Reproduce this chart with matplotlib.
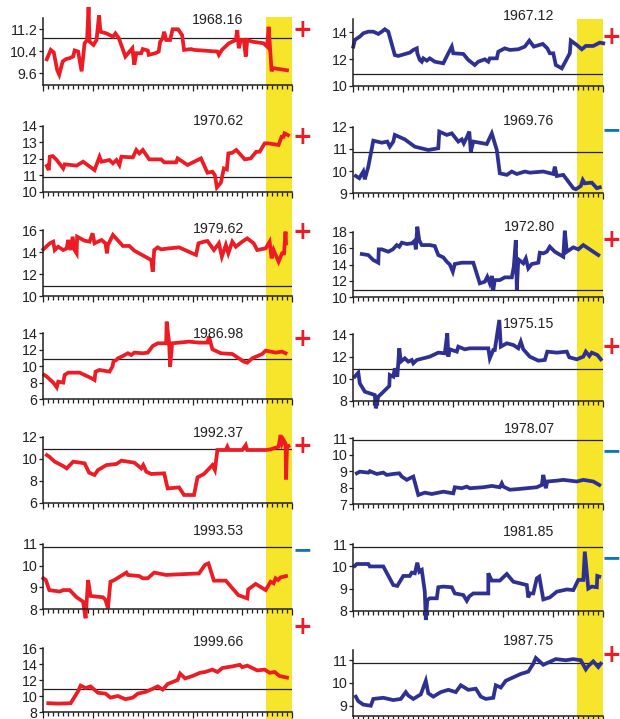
import matplotlib.pyplot as plt
import matplotlib.transforms as mtransforms
from matplotlib.patches import Rectangle
from matplotlib.ticker import MultipleLocator, FormatStrFormatter

plt.rcParams['font.family'] = ['Liberation Sans Narrow', 'Liberation Sans', 'DejaVu Sans']

# ---- data: (time, value) pairs, left column (red) ----
s_1968_16 = [(0.7, 10.10), (1.5, 10.44), (2.1, 10.35), (2.8, 9.70), (3.2, 9.54), (3.9, 10.02), (4.5, 10.10),
             (5.3, 10.14), (6.0, 10.20), (6.3, 10.42), (7.0, 10.38), (7.7, 9.66), (8.3, 10.68), (8.8, 10.80),
             (9.1, 12.0), (9.3, 10.74), (10.1, 10.62), (10.7, 10.80), (11.2, 11.70), (11.5, 11.10), (12.7, 11.04),
             (14.0, 10.92), (14.5, 11.04), (15.2, 10.86), (16.5, 10.20), (17.9, 10.50), (18.3, 9.90), (18.7, 10.32),
             (19.7, 10.32), (20.0, 10.47), (21.0, 10.42), (21.2, 10.26), (22.5, 10.32), (23.2, 10.38), (23.5, 10.74),
             (24.0, 10.86), (24.3, 11.10), (24.7, 10.80), (25.5, 10.80), (26.0, 11.19), (27.1, 11.19), (27.9, 10.98),
             (28.3, 10.44), (29.7, 10.47), (30.3, 10.44), (35.0, 10.38), (35.3, 10.26), (35.9, 10.44), (37.3, 10.68),
             (38.7, 10.80), (39.0, 11.16), (39.3, 10.50), (39.7, 10.80), (40.3, 10.80), (40.7, 10.20), (41.0, 10.80),
             (42.0, 10.74), (44.3, 10.68), (45.0, 10.56), (45.3, 11.28), (45.9, 9.66), (46.1, 9.78), (49.0, 9.70)]
s_1970_62 = [(0.7, 11.56), (1.1, 11.31), (1.3, 12.12), (1.9, 12.16), (2.7, 11.92), (4.0, 11.41), (4.3, 11.66),
             (6.7, 11.58), (8.0, 11.82), (10.3, 11.31), (11.3, 12.12), (11.7, 11.82), (13.3, 11.92), (14.0, 11.72),
             (14.7, 11.92), (15.3, 11.62), (15.7, 12.12), (18.0, 12.08), (18.7, 12.53), (19.3, 12.32), (20.0, 12.53),
             (21.3, 11.96), (23.7, 11.96), (24.3, 11.78), (26.7, 11.78), (27.0, 12.02), (29.0, 11.62), (31.7, 12.02),
             (33.0, 11.15), (34.0, 11.21), (34.5, 11.0), (34.9, 10.26), (35.7, 10.55), (36.3, 11.41), (36.9, 11.35),
             (37.2, 12.32), (38.0, 12.36), (38.8, 12.53), (40.5, 11.96), (41.7, 12.02), (42.8, 12.42), (43.5, 12.42),
             (44.5, 12.93), (45.3, 12.93), (47.3, 12.83), (47.9, 13.33), (48.3, 13.33), (48.5, 13.54), (49.2, 13.43)]
s_1979_62 = [(0.0, 14.24), (1.3, 14.79), (2.0, 14.94), (2.3, 14.18), (3.0, 14.48), (4.0, 14.18), (4.7, 14.33),
             (5.0, 15.09), (5.5, 14.18), (5.9, 15.39), (6.3, 14.18), (6.7, 13.88), (6.8, 15.39), (8.3, 15.03),
             (9.3, 14.94), (9.9, 15.70), (10.3, 14.79), (11.7, 15.09), (12.5, 14.79), (12.8, 13.88), (13.0, 14.64),
             (14.0, 15.55), (16.0, 14.55), (17.3, 14.55), (18.3, 14.12), (21.7, 13.27), (22.0, 12.21), (22.3, 14.18),
             (23.0, 14.42), (23.7, 14.24), (25.3, 14.33), (27.3, 14.42), (30.7, 13.73), (31.2, 14.79), (32.3, 14.94),
             (33.0, 15.0), (34.3, 14.18), (35.3, 14.79), (35.9, 13.58), (36.7, 14.64), (37.2, 13.88), (38.0, 14.94),
             (38.7, 14.48), (40.0, 14.94), (41.0, 15.24), (42.3, 14.79), (43.0, 14.18), (44.7, 14.33), (45.5, 14.94),
             (45.9, 13.42), (46.3, 14.18), (47.3, 13.12), (48.0, 13.88), (48.4, 13.88), (48.7, 15.85), (48.8, 14.79)]
s_1986_98 = [(0.2, 8.95), (0.7, 8.75), (2.0, 8.02), (2.7, 7.45), (3.0, 8.14), (4.0, 8.02), (4.3, 8.95), (5.0, 9.23),
             (7.3, 9.23), (9.7, 8.55), (10.3, 8.34), (10.5, 9.35), (11.3, 9.56), (13.3, 9.35), (13.9, 9.96),
             (14.1, 10.57), (14.7, 10.77), (15.0, 10.97), (16.0, 11.25), (17.0, 11.58), (17.7, 11.37), (18.3, 11.66),
             (20.0, 11.58), (21.0, 11.66), (22.0, 12.46), (23.0, 12.79), (24.7, 12.79), (24.8, 15.41), (25.3, 12.79),
             (25.5, 9.96), (25.9, 12.79), (27.3, 12.87), (29.3, 12.99), (31.3, 12.87), (33.0, 12.87), (33.3, 13.6),
             (34.0, 12.06), (35.7, 11.58), (38.0, 11.49), (40.3, 10.57), (41.0, 10.44), (42.0, 10.97), (44.0, 11.49),
             (44.7, 11.90), (46.7, 11.66), (48.0, 11.78), (48.7, 11.58)]
s_1992_37 = [(0.7, 10.33), (1.2, 10.18), (2.3, 9.73), (4.0, 9.33), (4.7, 9.12), (6.0, 9.73), (8.3, 9.58), (9.2, 8.73),
             (10.3, 8.52), (11.0, 8.97), (12.7, 9.42), (14.7, 9.52), (15.7, 9.82), (18.3, 9.64), (19.7, 9.12),
             (20.1, 9.42), (20.7, 8.82), (21.7, 8.61), (24.3, 8.67), (25.0, 7.30), (27.3, 7.39), (28.3, 6.70),
             (30.3, 6.70), (31.0, 8.30), (32.3, 8.61), (34.0, 9.42), (34.5, 8.97), (35.0, 10.79), (36.7, 10.79),
             (37.0, 11.09), (37.3, 10.79), (40.0, 10.79), (40.7, 11.24), (41.0, 10.79), (44.7, 10.79), (45.7, 10.85),
             (47.3, 11.09), (47.7, 12.15), (48.0, 11.39), (48.3, 11.70), (48.7, 11.39), (48.8, 8.12), (49.0, 11.09),
             (49.3, 11.15)]
s_1993_53 = [(0.0, 9.42), (0.5, 9.34), (1.2, 8.88), (3.3, 8.81), (4.0, 8.88), (5.3, 8.88), (6.7, 8.55), (8.0, 8.35),
             (8.5, 7.59), (9.0, 9.34), (9.5, 8.61), (12.0, 8.55), (12.5, 8.43), (13.0, 8.05), (13.5, 9.26),
             (14.3, 9.34), (16.7, 9.68), (17.0, 9.57), (19.3, 9.52), (20.0, 9.42), (21.0, 9.42), (22.3, 9.68),
             (24.7, 9.57), (27.3, 9.60), (31.3, 9.64), (32.5, 10.03), (33.2, 10.10), (34.3, 9.31), (36.7, 9.31),
             (39.2, 8.65), (41.0, 8.50), (41.2, 8.91), (42.7, 9.16), (44.7, 8.88), (45.7, 9.26), (46.3, 9.19),
             (46.7, 9.42), (47.2, 9.34), (47.7, 9.46), (48.8, 9.52)]
s_1999_66 = [(1.0, 9.1), (3.0, 9.05), (5.5, 9.1), (6.0, 9.6), (7.0, 10.6), (7.5, 11.3), (8.5, 11.0), (9.5, 11.2),
             (11.0, 10.4), (12.5, 10.3), (13.5, 9.8), (15.0, 10.0), (16.5, 9.6), (18.0, 9.8), (19.0, 10.3),
             (20.5, 10.5), (22.0, 10.9), (23.0, 11.2), (24.0, 10.8), (25.0, 11.5), (27.0, 12.0), (27.5, 12.8),
             (28.5, 12.2), (30.0, 12.5), (31.5, 12.9), (32.5, 13.0), (34.0, 13.3), (35.0, 13.0), (36.0, 13.5),
             (38.0, 13.7), (39.5, 13.9), (40.0, 13.6), (41.0, 13.8), (43.0, 13.2), (44.5, 13.3), (45.5, 12.9),
             (46.5, 13.0), (47.5, 12.5), (49.0, 12.3)]

# ---- right column (blue) ----
s_1967_12 = [(0.0, 12.93), (0.3, 13.43), (1.3, 13.68), (2.0, 13.93), (3.0, 14.05), (4.0, 14.05), (5.0, 13.88),
             (5.7, 14.05), (6.3, 14.23), (7.0, 14.05), (8.3, 12.30), (9.0, 12.23), (11.3, 12.48), (12.0, 12.68),
             (12.7, 12.80), (12.8, 12.43), (13.3, 11.93), (13.7, 11.80), (14.0, 12.05), (14.7, 11.88), (15.3, 12.05),
             (16.3, 11.80), (18.0, 11.68), (19.0, 12.43), (19.7, 12.93), (20.0, 12.43), (22.0, 12.38), (23.0, 11.93),
             (24.3, 11.55), (25.0, 11.80), (26.3, 11.98), (27.0, 11.80), (27.3, 12.05), (28.7, 12.05), (29.0, 12.55),
             (30.3, 12.80), (31.3, 12.68), (33.0, 12.73), (34.3, 12.93), (35.2, 13.38), (36.1, 12.93), (37.9, 13.13),
             (38.8, 12.80), (39.3, 12.43), (40.0, 12.43), (40.5, 11.55), (41.7, 11.30), (43.3, 12.43), (43.5, 13.38),
             (44.7, 13.05), (45.7, 12.73), (46.5, 12.98), (48.0, 12.98), (49.3, 13.23), (50.0, 13.18)]
s_1969_76 = [(0.5, 9.78), (1.2, 9.68), (2.0, 9.98), (2.3, 9.63), (3.0, 10.20), (4.0, 11.37), (5.7, 11.28),
             (6.8, 11.33), (7.3, 11.10), (8.0, 11.33), (8.3, 11.63), (10.3, 11.43), (12.3, 11.10), (15.0, 10.95),
             (17.0, 11.03), (17.2, 11.78), (18.7, 11.63), (19.7, 11.70), (21.0, 11.33), (21.7, 11.43), (22.1, 11.25),
             (22.7, 11.52), (23.2, 11.78), (23.5, 10.88), (24.0, 11.33), (26.7, 11.22), (27.7, 11.70), (28.7, 10.95),
             (29.3, 9.90), (30.7, 9.83), (31.7, 9.98), (32.7, 9.87), (34.3, 9.98), (35.3, 9.93), (38.0, 9.98),
             (40.0, 9.87), (40.3, 10.20), (40.7, 9.78), (42.0, 9.83), (44.0, 9.23), (44.5, 9.18), (45.5, 9.33),
             (45.9, 9.60), (46.3, 9.45), (47.7, 9.48), (48.7, 9.23), (49.3, 9.27)]
s_1972_80 = [(1.7, 15.28), (3.0, 15.15), (4.0, 14.54), (5.0, 14.22), (5.1, 15.85), (5.7, 15.85), (7.0, 15.56),
             (7.9, 15.85), (8.7, 16.37), (9.2, 16.17), (9.7, 16.66), (10.7, 16.50), (11.7, 16.58), (12.3, 16.90),
             (12.5, 15.85), (12.8, 18.61), (13.2, 16.9), (13.7, 16.37), (15.3, 16.37), (16.3, 16.25), (17.0, 15.15),
             (18.0, 14.87), (18.7, 14.34), (19.3, 14.0), (19.9, 13.12), (20.3, 14.06), (21.7, 14.22), (24.0, 14.22),
             (25.3, 11.70), (26.3, 11.90), (26.8, 12.50), (27.3, 11.70), (27.7, 12.60), (28.0, 10.89), (28.3, 12.10),
             (29.3, 12.10), (30.3, 12.43), (31.7, 12.43), (32.1, 13.73), (32.5, 16.98), (32.7, 10.89), (33.0, 14.63),
             (34.0, 14.14), (34.5, 14.75), (35.0, 13.53), (35.7, 14.06), (37.0, 14.22), (37.3, 15.44), (38.0, 15.36),
             (38.7, 15.56), (39.3, 16.17), (40.3, 15.56), (42.0, 14.95), (42.3, 18.12), (42.7, 15.56), (44.0, 16.09),
             (45.0, 15.85), (46.0, 16.37), (47.7, 15.68), (49.0, 15.15)]
s_1975_15 = [(0.3, 10.19), (1.0, 10.55), (1.3, 9.59), (2.3, 8.84), (4.3, 8.54), (4.5, 7.34), (5.0, 8.39), (5.7, 8.69),
             (7.2, 9.35), (7.3, 10.34), (8.0, 10.19), (8.3, 10.94), (8.8, 10.19), (9.2, 12.74), (9.5, 11.54),
             (10.3, 11.84), (11.0, 11.54), (11.7, 11.69), (12.0, 11.39), (12.7, 11.69), (14.0, 11.84), (15.3, 11.99),
             (17.0, 12.35), (18.3, 12.29), (18.8, 14.09), (19.0, 11.99), (19.3, 12.65), (20.7, 12.44), (21.0, 12.89),
             (22.3, 12.65), (23.3, 12.74), (27.0, 12.74), (27.3, 11.84), (28.0, 12.59), (28.3, 12.59), (29.2, 15.29),
             (29.5, 12.89), (30.7, 13.19), (32.0, 13.04), (33.0, 12.74), (33.5, 13.34), (34.0, 12.65), (35.3, 11.99),
             (37.0, 11.63), (38.3, 11.69), (38.8, 12.44), (40.7, 12.35), (42.7, 12.44), (43.2, 11.93), (44.7, 11.75),
             (46.0, 11.99), (46.5, 12.44), (47.2, 12.05), (47.7, 12.35), (48.8, 12.14), (49.5, 11.75)]
s_1978_07 = [(0.7, 8.87), (1.3, 8.97), (3.0, 8.91), (3.3, 9.0), (4.7, 8.83), (6.0, 8.91), (6.7, 8.77), (8.0, 8.83),
             (9.2, 8.87), (9.7, 8.67), (10.7, 8.47), (11.3, 8.57), (12.0, 8.67), (13.0, 7.55), (14.3, 7.69),
             (15.7, 7.61), (18.0, 7.75), (20.0, 7.65), (20.3, 8.02), (21.7, 7.96), (22.7, 8.06), (23.3, 7.96),
             (26.0, 8.02), (27.7, 8.10), (29.3, 8.02), (29.7, 8.26), (30.0, 8.06), (31.3, 7.87), (33.0, 7.91),
             (36.7, 8.02), (37.7, 8.16), (38.0, 8.77), (38.5, 7.96), (38.8, 8.37), (40.7, 8.42), (42.0, 8.47),
             (44.7, 8.37), (46.0, 8.47), (48.0, 8.37), (49.2, 8.16)]
s_1981_85 = [(0.3, 10.02), (0.7, 10.11), (3.0, 10.11), (3.3, 10.0), (6.0, 10.0), (8.0, 9.16), (8.8, 9.12),
             (10.0, 9.57), (11.3, 9.57), (11.7, 9.72), (12.3, 9.69), (12.8, 10.17), (13.2, 9.76), (13.7, 9.84),
             (14.3, 8.86), (14.5, 7.58), (14.8, 8.48), (15.3, 8.56), (16.7, 8.56), (17.0, 9.06), (18.0, 9.09),
             (19.7, 9.06), (20.3, 8.78), (22.0, 8.71), (22.7, 8.45), (23.2, 8.65), (24.0, 8.78), (27.0, 8.78),
             (27.0, 9.69), (27.7, 9.36), (29.3, 9.36), (30.7, 9.66), (32.0, 9.31), (34.7, 9.16), (35.0, 8.60),
             (35.3, 8.78), (36.0, 8.78), (36.7, 9.46), (37.2, 9.54), (38.0, 8.51), (39.3, 8.60), (40.7, 8.86),
             (42.7, 8.96), (44.0, 8.93), (45.0, 9.39), (46.0, 9.39), (46.3, 10.67), (47.0, 9.0), (47.7, 9.09),
             (48.7, 9.06), (48.8, 9.57), (49.2, 9.54)]
s_1987_75 = [(0.5, 9.4), (1.0, 9.2), (2.0, 9.05), (3.5, 9.0), (4.0, 9.3), (6.0, 9.35), (8.0, 9.25), (9.5, 9.3),
             (10.5, 9.6), (11.0, 9.45), (12.0, 9.3), (13.5, 9.5), (14.5, 10.1), (15.0, 9.55), (16.0, 9.4), (17.5, 9.6),
             (19.0, 9.7), (20.5, 9.6), (21.5, 9.9), (23.0, 9.7), (24.5, 9.75), (25.5, 9.4), (26.5, 9.3), (28.0, 9.35),
             (28.5, 9.9), (29.5, 9.8), (30.5, 10.1), (32.0, 10.25), (33.5, 10.4), (35.0, 10.5), (36.0, 10.85),
             (36.5, 11.1), (38.0, 10.8), (39.5, 10.95), (40.5, 11.05), (42.5, 11.0), (44.0, 11.05), (45.5, 11.0),
             (46.5, 10.6), (47.0, 10.75), (48.0, 10.95), (49.0, 10.7), (49.5, 10.85)]

left_series = [s_1968_16, s_1970_62, s_1979_62, s_1986_98, s_1992_37, s_1993_53, s_1999_66]
right_series = [s_1967_12, s_1969_76, s_1972_80, s_1975_15, s_1978_07, s_1981_85, s_1987_75]
left_labels = ['1968.16', '1970.62', '1979.62', '1986.98', '1992.37', '1993.53', '1999.66']
right_labels = ['1967.12', '1969.76', '1972.80', '1975.15', '1978.07', '1981.85', '1987.75']
left_signs = ['+', '+', '+', '+', '+', '-', '+']
right_signs = ['+', '-', '+', '+', '-', '-', '+']
left_ylims = [(9.164, 11.6), (10, 14), (10, 16), (6, 14), (6, 12), (8, 11), (8, 16)]
right_ylims = [(10, 15), (9, 12), (10, 18), (8, 14), (7, 11), (8, 11), (8.55, 11.45)]
left_yticks = [[9.6, 10.4, 11.2], [10, 11, 12, 13, 14], [10, 12, 14, 16], [6, 8, 10, 12, 14],
               [6, 8, 10, 12], [8, 9, 10, 11], [8, 10, 12, 14, 16]]
right_yticks = [[10, 12, 14], [9, 10, 11, 12], [10, 12, 14, 16, 18], [8, 10, 12, 14],
                [7, 8, 9, 10, 11], [8, 9, 10, 11], [9, 10, 11]]
threshold = 10.87
band = (44.75, 50.0)

# ---- layout (pixels) ----
W, H = 620, 719
RED, BLUE, YELLOW, INK = '#ed1c24', '#2e3192', '#f6e52b', '#231f20'
MINUS_BLUE = '#0b75bd'
left_cols = (43.3, 292.0)
right_cols = (353.3, 603.3)
left_rows = [(18, 85), (125.7, 191.7), (230, 296), (333.3, 399.3), (436.7, 502.7), (543.7, 609.3), (648, 712)]
right_rows = [(19, 85.7), (126.7, 193.3), (231.7, 297.3), (334.3, 401), (438.3, 504), (544.3, 610.7), (650, 716)]
left_title_y = [20, 121, 229, 334, 433, 531, 642]
right_title_y = [16, 121, 227, 324, 429, 532, 641]
left_sign_y = [30, 137, 232, 339, 446, 550, 627]
right_sign_y = [37, 130, 240, 347, 451, 558, 655]

fig = plt.figure(figsize=(W / 100, H / 100), dpi=100)


def make_panel(cols, rows, data, ylim, yticks, color):
    x0, x1 = cols
    top, bot = rows
    ax = fig.add_axes([x0 / W, 1 - bot / H, (x1 - x0) / W, (bot - top) / H])
    ax.set_facecolor('none')
    xs = [p[0] for p in data]
    ys = [p[1] for p in data]
    ax.axhline(threshold, color=INK, lw=0.9, zorder=1)
    ax.plot(xs, ys, color=color, lw=2.7, solid_joinstyle='miter', clip_on=False, zorder=2)
    ax.set_xlim(0, 50)
    ax.set_ylim(*ylim)
    ax.set_yticks(yticks)
    ax.yaxis.set_major_formatter(FormatStrFormatter('%g'))
    ax.xaxis.set_major_locator(MultipleLocator(10))
    ax.xaxis.set_minor_locator(MultipleLocator(1))
    ax.set_xticklabels([])
    for s in ('top', 'right'):
        ax.spines[s].set_visible(False)
    for s in ('left', 'bottom'):
        ax.spines[s].set_linewidth(1.1)
        ax.spines[s].set_color(INK)
    ax.tick_params(axis='x', which='major', length=4.6, width=0.9, color=INK)
    ax.tick_params(axis='x', which='minor', length=3.0, width=0.9, color=INK)
    ax.tick_params(axis='y', which='major', length=3.0, width=0.9, color=INK, pad=1.2,
                   labelsize=10.2, labelcolor=INK)
    return ax


left_axes = [make_panel(left_cols, r, d, yl, yt, RED)
             for r, d, yl, yt in zip(left_rows, left_series, left_ylims, left_yticks)]
right_axes = [make_panel(right_cols, r, d, yl, yt, BLUE)
              for r, d, yl, yt in zip(right_rows, right_series, right_ylims, right_yticks)]

# yellow highlight band running down each column
for axes, top_px in ((left_axes, 17), (right_axes, 19)):
    trans = mtransforms.blended_transform_factory(axes[0].transData, fig.transFigure)
    fig.add_artist(Rectangle((band[0], 0), band[1] - band[0], 1 - top_px / H, transform=trans,
                             facecolor=YELLOW, edgecolor='none', zorder=-1))

for labels, signs, ty, sy, tx, sx in ((left_labels, left_signs, left_title_y, left_sign_y, 218, 302),
                                      (right_labels, right_signs, right_title_y, right_sign_y, 529, 611)):
    for lab, sg, y1, y2 in zip(labels, signs, ty, sy):
        fig.text(tx / W, 1 - y1 / H, lab, ha='center', va='center', fontsize=10.2, color=INK)
        if sg == '+':
            fig.text(sx / W, 1 - y2 / H, '+', ha='center', va='center', fontsize=17,
                     fontweight='bold', color=RED, family='DejaVu Sans')
        else:
            fig.text(sx / W, 1 - y2 / H, '\u2212', ha='center', va='center', fontsize=17,
                     fontweight='bold', color=MINUS_BLUE, family='DejaVu Sans')

fig.savefig('out.png', dpi=100)
